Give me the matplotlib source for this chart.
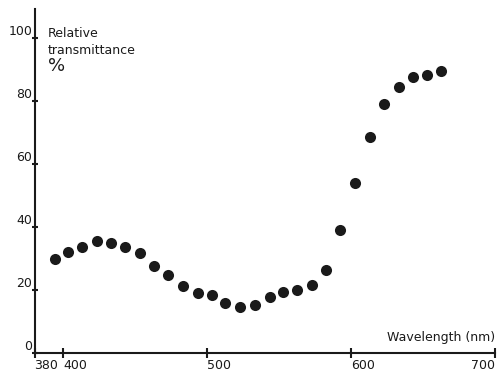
import matplotlib
matplotlib.use("Agg")
import matplotlib.pyplot as plt

# wavelength (nm) and relative transmittance (%)
wavelength = [394, 403.5, 413, 423.5, 433.5, 443, 453, 463, 473, 483, 493.5,
              503, 512.5, 522.5, 533, 543.5, 553, 562.5, 572.5, 582.5, 592.5,
              603, 613, 623, 633.5, 643, 652.5, 662.5]
transmittance = [29.8, 32.2, 33.6, 35.5, 34.8, 33.7, 31.7, 27.7, 24.8, 21.4, 19.0,
                 18.3, 15.8, 14.7, 15.2, 17.9, 19.3, 20.1, 21.5, 26.3, 39.0,
                 54.1, 68.7, 79.0, 84.3, 87.6, 88.2, 89.5]

x_ticks = [380, 400, 500, 600, 700]
y_ticks = [0, 20, 40, 60, 80, 100]

ink = "#1a1a1a"

fig = plt.figure(figsize=(4.98, 3.71), dpi=100)
ax = fig.add_axes([34.5 / 498, 18 / 371, 460.5 / 498, 344 / 371])

ax.plot(wavelength, transmittance, "o", color=ink, markersize=8, markeredgewidth=0)

ax.set_xlim(380, 700)
ax.set_ylim(0, 109.2)

for s in ["top", "right"]:
    ax.spines[s].set_visible(False)
for s in ["left", "bottom"]:
    ax.spines[s].set_linewidth(1.5)
    ax.spines[s].set_color(ink)

ax.set_xticks(x_ticks)
ax.set_xticklabels([str(v) for v in x_ticks])
ax.set_yticks(y_ticks)
ax.set_yticklabels([str(v) for v in y_ticks])

ax.tick_params(axis="x", direction="inout", length=6.5, width=1.5, color=ink,
               labelsize=9, pad=1.0, labelcolor=ink)
ax.tick_params(axis="y", direction="inout", length=5, width=1.5, color=ink,
               labelsize=9, pad=-1.0, labelcolor=ink)

xl = ax.get_xticklabels()
for lab in xl:
    lab.set_ha("left")
xl[-1].set_ha("right")
for lab in ax.get_yticklabels():
    lab.set_va("bottom")

ax.text(700, 3.8, "Wavelength (nm)", ha="right", va="baseline", fontsize=9, color=ink)
ax.text(389.4, 100.3, "Relative", ha="left", va="baseline", fontsize=9, color=ink)
ax.text(389.4, 94.9, "transmittance", ha="left", va="baseline", fontsize=9, color=ink)
ax.text(389.4, 89.5, "%", ha="left", va="baseline", fontsize=13, color=ink)

fig.savefig("out.png", dpi=100)
